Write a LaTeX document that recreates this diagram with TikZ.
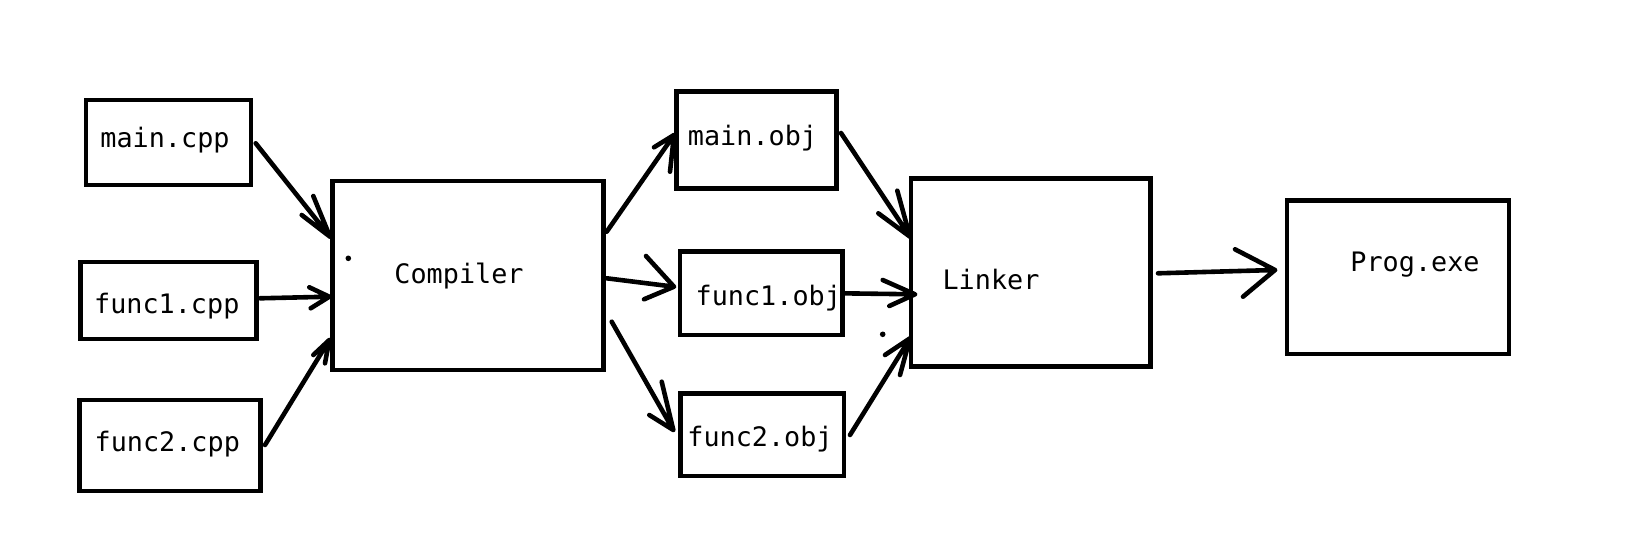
\documentclass[tikz,border=0pt]{standalone}
\usepackage{fontspec}
\setmonofont{DejaVu Sans Mono}
\usetikzlibrary{calc,fit}
\begin{document}
\begin{tikzpicture}[x=0.5pt,y=-0.5pt,
  box/.style={draw=black,line width=2.4pt,inner sep=0pt,outer sep=0pt},
  lbl/.style={inner sep=0pt,outer sep=0pt,anchor=base,font=\fontsize{13.4}{15}\selectfont\ttfamily},
  wire/.style={line width=2.3pt,line cap=round,line join=round},
  speck/.style={circle,fill=black,inner sep=0pt,minimum size=2.8pt}]
\path[fill=white,use as bounding box] (0,0) rectangle (1642,540);
% boxes
\node[box,fit={(86,100) (251,185)}] (mainc) {};
\node[box,fit={(80.5,262) (256.5,339)}] (f1c) {};
\node[box,fit={(79.5,400) (260.5,491)}] (f2c) {};
\node[box,fit={(332.5,181) (603.5,370)}] (comp) {};
\node[box,fit={(676.5,91.5) (836.5,188.5)}] (maino) {};
\node[box,fit={(680,251.7) (842.5,335)}] (f1o) {};
\node[box,fit={(680.5,393.3) (844,476)}] (f2o) {};
\node[box,fit={(911,178.3) (1150.5,366.5)}] (link) {};
\node[box,fit={(1287,200.5) (1509,354)}] (prog) {};
% texts
\node[lbl] (tmainc) at (165,148) {main.cpp};
\node[lbl] (tf1c) at (166.8,313) {func1.cpp};
\node[lbl] (tf2c) at (167.3,451.7) {func2.cpp};
\node[lbl] (tcomp) at (459,283) {Compiler};
\node[lbl] (tmaino) at (752.5,145.7) {main.obj};
\node[lbl] (tf1o) at (768.3,305.7) {func1.obj};
\node[lbl] (tf2o) at (760,446.7) {func2.obj};
\node[lbl] (tlink) at (991,289.3) {Linker};
\node[lbl] (tprog) at (1415,271.7) {Prog.exe};
% stray dots
\node[speck] (d1) at (348.3,258.3) {};
\node[speck] (d2) at (882.7,334.3) {};
% connectors
\draw[wire] ($(mainc.east)+(4.7,0.8)$) -- ($(comp.west)+(-2.5,-38.8)$) -- +(-16.7,-40.7) +(0,0) -- +(-28.3,-21.7);
\draw[wire] ($(f1c.east)+(3.5,-2.2)$) -- ($(comp.west)+(-3.2,21.2)$) -- +(-20,-9.4) +(0,0) -- +(-18.6,11.6);
\draw[wire] ($(f2c.east)+(4.5,-0.5)$) -- ($(comp.west)+(-3.2,64.5)$) -- +(-16,15) +(0,0) -- +(-4.3,23.3);
\draw[wire] ($(comp.east)+(3.2,-43.8)$) -- ($(maino.west)+(-2.5,-5)$) -- +(-20,12.3) +(0,0) -- +(-4,36.7);
\draw[wire] ($(comp.east)+(3.2,2.8)$) -- ($(f1o.west)+(-6,-6.65)$) -- +(-28,-30.7) +(0,0) -- +(-30,12.6);
\draw[wire] ($(comp.east)+(8.2,46.2)$) -- ($(f2o.west)+(-7.2,-4.65)$) -- +(-11.6,-48.3) +(0,0) -- +(-24,-15);
\draw[wire] ($(maino.east)+(4.5,-7)$) -- ($(link.west)+(-1,-35.7)$) -- +(-12.7,-46) +(0,0) -- +(-31.7,-23.4);
\draw[wire] ($(f1o.east)+(2.5,0)$) -- ($(link.west)+(4,21.9)$) -- +(-32.3,-14.3) +(0,0) -- +(-25.7,11.7);
\draw[wire] ($(f2o.east)+(6,0.35)$) -- ($(link.west)+(-1,65.9)$) -- +(-25,16.7) +(0,0) -- +(-10,36.7);
\draw[wire] ($(link.east)+(7.5,0.9)$) -- ($(prog.west)+(-12,-7.25)$) -- +(-40,-20.7) +(0,0) -- +(-32,26.7);
\end{tikzpicture}
\end{document}
